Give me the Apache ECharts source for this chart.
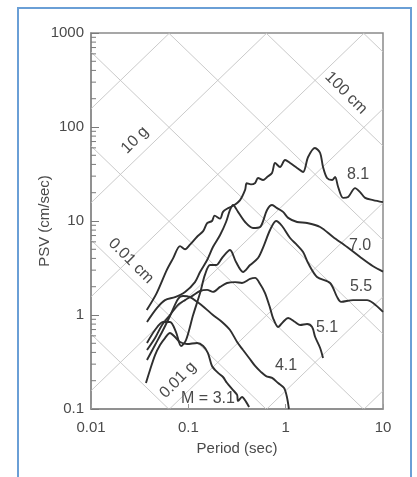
<!DOCTYPE html>
<html>
<head>
<meta charset="utf-8">
<script src="https://cdn.jsdelivr.net/npm/echarts@6/dist/echarts.min.js"></script>
<style>
html, body { margin: 0; padding: 0; background: #fff; }
#main { width: 417px; height: 477px; }
</style>
</head>
<body>
<div id="main"></div>
<script>
// tick labels
var periodTicks = ['0.01', '0.1', '1', '10'];
var psvTicks = ['0.1', '1', '10', '100', '1000'];
// tripartite diagonals: displacement (cm) and acceleration (g)
var dispLines = [0.001, 0.01, 0.1, 1, 10, 100, 1000];
var accLines = [0.0001, 0.001, 0.01, 0.1, 1, 10, 100];

// spectra [period (s), PSV (cm/s)]
var m81 = [[0.0374,1.13],[0.0473,1.71],[0.060,3.0],[0.0697,4.0],[0.0822,5.4],[0.0925,5.0],[0.104,5.6],[0.123,6.8],[0.142,7.8],[0.156,9.5],[0.175,10.0],[0.186,11.4],[0.212,10.6],[0.227,12.5],[0.250,13.5],[0.288,14.5],[0.340,16.7],[0.383,21.4],[0.398,25.2],[0.440,24.5],[0.486,25.4],[0.520,28.7],[0.586,27.3],[0.645,29.4],[0.724,32.4],[0.778,41.4],[0.875,37.5],[0.986,44.6],[1.11,41.4],[1.31,36.6],[1.51,33.2],[1.70,48.0],[2.00,59.8],[2.26,52.9],[2.42,37.5],[2.66,28.7],[3.00,27.3],[3.22,29.4],[3.46,23.0],[3.89,17.6],[4.38,18.0],[5.17,22.4],[5.82,20.3],[6.55,17.6],[7.91,16.7],[10,15.9]];
var m70 = [[0.0376,0.843],[0.0477,1.19],[0.0576,1.44],[0.0730,1.55],[0.0925,1.76],[0.117,2.24],[0.132,2.87],[0.156,3.85],[0.179,5.29],[0.212,7.10],[0.244,9.76],[0.268,13.1],[0.288,14.8],[0.324,12.5],[0.383,9.76],[0.462,8.42],[0.546,8.63],[0.644,13.1],[0.725,14.8],[0.816,13.7],[0.940,12.5],[1.06,10.8],[1.31,9.76],[1.66,9.52],[2.26,8.63],[3.07,6.76],[4.28,5.29],[5.82,4.14],[7.91,3.3],[10,2.9]];
var m55 = [[0.0376,0.504],[0.0455,0.692],[0.0550,0.843],[0.0648,0.843],[0.0747,0.659],[0.0841,0.468],[0.0947,0.542],[0.112,1.0],[0.132,1.71],[0.148,2.67],[0.167,3.40],[0.193,3.40],[0.222,4.04],[0.268,4.91],[0.309,3.66],[0.365,2.87],[0.431,3.40],[0.520,4.04],[0.600,5.55],[0.691,8.02],[0.797,10.0],[0.918,8.85],[1.11,6.59],[1.31,5.55],[1.51,4.68],[1.70,3.57],[2.10,2.54],[2.86,2.19],[3.38,1.55],[3.71,1.38],[4.93,1.44],[6.86,1.44],[7.91,1.34],[10,1.08]];
var m51 = [[0.0376,0.424],[0.0455,0.569],[0.0537,0.783],[0.0648,1.0],[0.0784,1.28],[0.0925,1.44],[0.109,1.59],[0.132,1.80],[0.156,1.85],[0.179,1.76],[0.212,1.99],[0.250,2.19],[0.302,2.24],[0.356,2.19],[0.431,2.42],[0.485,2.48],[0.546,2.14],[0.614,1.71],[0.691,1.19],[0.742,0.929],[0.836,0.745],[0.940,0.843],[1.06,0.929],[1.25,0.843],[1.41,0.783],[1.66,0.802],[1.87,0.745],[2.01,0.583],[2.26,0.446],[2.42,0.349]];
var m41 = [[0.0376,0.332],[0.0455,0.480],[0.0537,0.659],[0.0648,0.976],[0.0784,1.48],[0.0882,1.59],[0.104,1.55],[0.123,1.38],[0.148,1.19],[0.179,1.0],[0.222,0.843],[0.268,0.692],[0.317,0.516],[0.365,0.424],[0.421,0.349],[0.485,0.287],[0.559,0.247],[0.629,0.224],[0.725,0.214],[0.836,0.189],[0.963,0.167],[1.03,0.134],[1.08,0.1]];
var m31 = [[0.0367,0.189],[0.0404,0.260],[0.0455,0.375],[0.0512,0.480],[0.0576,0.569],[0.0648,0.644],[0.0730,0.583],[0.0822,0.516],[0.0970,0.491],[0.123,0.504],[0.142,0.468],[0.159,0.394],[0.175,0.287],[0.202,0.242],[0.227,0.219],[0.250,0.189],[0.288,0.159],[0.317,0.141],[0.324,0.122],[0.356,0.134],[0.392,0.119],[0.421,0.105]];

var spectra = [m81, m70, m55, m51, m41, m31];
var spectraNames = ['8.1', '7.0', '5.5', '5.1', '4.1', '3.1'];

// y-axis minor tick values
var minorTicks = [];
for (var d = 0.1; d < 1000; d *= 10) {
    for (var k = 2; k <= 9; k++) {
        minorTicks.push([0.01, k * d]);
    }
}

var TMIN = 0.01, TMAX = 10, VMIN = 0.1, VMAX = 1000;
var TWO_PI = 2 * Math.PI;

//constant displacement line: V = 2*pi*SD/T
function dispSegment(sd) {
    var lo = Math.max(TMIN, TWO_PI * sd / VMAX);
    var hi = Math.min(TMAX, TWO_PI * sd / VMIN);
    if (lo >= hi) return null;
    return [[lo, TWO_PI * sd / lo], [hi, TWO_PI * sd / hi]];
}
//constant acceleration line: V = A*T/(2*pi)
function accSegment(g) {
    var a = g * 981;
    var lo = Math.max(TMIN, VMIN * TWO_PI / a);
    var hi = Math.min(TMAX, VMAX * TWO_PI / a);
    if (lo >= hi) return null;
    return [[lo, a * lo / TWO_PI], [hi, a * hi / TWO_PI]];
}

var series = [];
function diagSeries(seg) {
    if (!seg) return;
    series.push({
        type: 'line',
        data: seg,
        symbol: 'none',
        silent: true,
        z: 1,
        lineStyle: { color: '#c4c4c4', width: 0.9 }
    });
}
dispLines.forEach(function (sd) { diagSeries(dispSegment(sd)); });
accLines.forEach(function (g) { diagSeries(accSegment(g)); });

spectra.forEach(function (s, i) {
    series.push({
        name: spectraNames[i],
        type: 'line',
        data: s,
        symbol: 'none',
        smooth: 0.3,
        z: 3,
        lineStyle: { color: '#2f2f2f', width: 1.9 }
    });
});

//minor ticks drawn inside the y-axis
series.push({
    type: 'custom',
    silent: true,
    z: 4,
    data: minorTicks,
    renderItem: function (params, api) {
        var p = api.coord([api.value(0), api.value(1)]);
        return {
            type: 'line',
            shape: { x1: p[0], y1: p[1], x2: p[0] + 5, y2: p[1] },
            style: { stroke: '#7a7a7a', lineWidth: 1 }
        };
    }
});

var txtColor = '#4a4a4a';
var font = '"Liberation Sans", Arial, sans-serif';

function label(text, x, y, rot, size, italic) {
    return {
        type: 'text', x: x, y: y, rotation: rot || 0, z: 10,
        style: {
            text: text, fill: txtColor, align: 'center', verticalAlign: 'middle',
            font: (italic ? 'italic ' : '') + (size || 16) + 'px ' + font
        }
    };
}

var option = {
    animation: false,
    backgroundColor: '#fff',
    grid: {
        left: 91, right: 34, top: 33, bottom: 68,
        show: true, borderColor: '#8a8a8a', borderWidth: 1.5, backgroundColor: 'transparent'
    },
    xAxis: {
        type: 'log', logBase: 10, min: TMIN, max: TMAX,
        name: 'Period (sec)', nameLocation: 'middle', nameGap: 32, nameMoveOverlap: false,
        nameTextStyle: { color: txtColor, fontSize: 15, fontFamily: font },
        axisLine: { lineStyle: { color: '#8a8a8a', width: 1.5 } },
        axisTick: { inside: true, length: 5, lineStyle: { color: '#999' } },
        splitLine: { show: false },
        axisLabel: {
            color: txtColor, fontSize: 15, fontFamily: font, margin: 11,
            formatter: function (v) { return periodTicks[Math.round(Math.log10(v)) + 2]; }
        }
    },
    yAxis: {
        type: 'log', logBase: 10, min: VMIN, max: VMAX,
        name: 'PSV (cm/sec)', nameLocation: 'middle', nameGap: 39, nameMoveOverlap: false,
        nameTextStyle: { color: txtColor, fontSize: 15, fontFamily: font },
        axisLine: { lineStyle: { color: '#8a8a8a', width: 1.5 } },
        axisTick: { inside: true, length: 8, lineStyle: { color: '#7a7a7a' } },
        splitLine: { show: false },
        axisLabel: {
            color: txtColor, fontSize: 15, fontFamily: font, margin: 7,
            formatter: function (v) { return psvTicks[Math.round(Math.log10(v)) + 1]; }
        }
    },
    graphic: [
        { type: 'rect', shape: { x: 18, y: 8, width: 393, height: 480 }, style: { fill: 'none', stroke: '#6a9fd6', lineWidth: 2 }, z: 0 },
        label('8.1', 358, 175),
        label('7.0', 360, 246),
        label('5.5', 361, 287),
        label('5.1', 327, 328),
        label('4.1', 286, 366),
        label('M = 3.1', 208, 399, 0, 16),
        label('10 g', 135, 140, Math.PI / 4, 16),
        label('100 cm', 346, 93, -Math.PI / 4, 16),
        label('0.01 cm', 131, 261, -Math.PI / 4, 16),
        label('0.01 g', 178, 380, Math.PI / 4, 16)
    ],
    series: series
};

var chart = echarts.init(document.getElementById('main'));
chart.setOption(option);
</script>
</body>
</html>
